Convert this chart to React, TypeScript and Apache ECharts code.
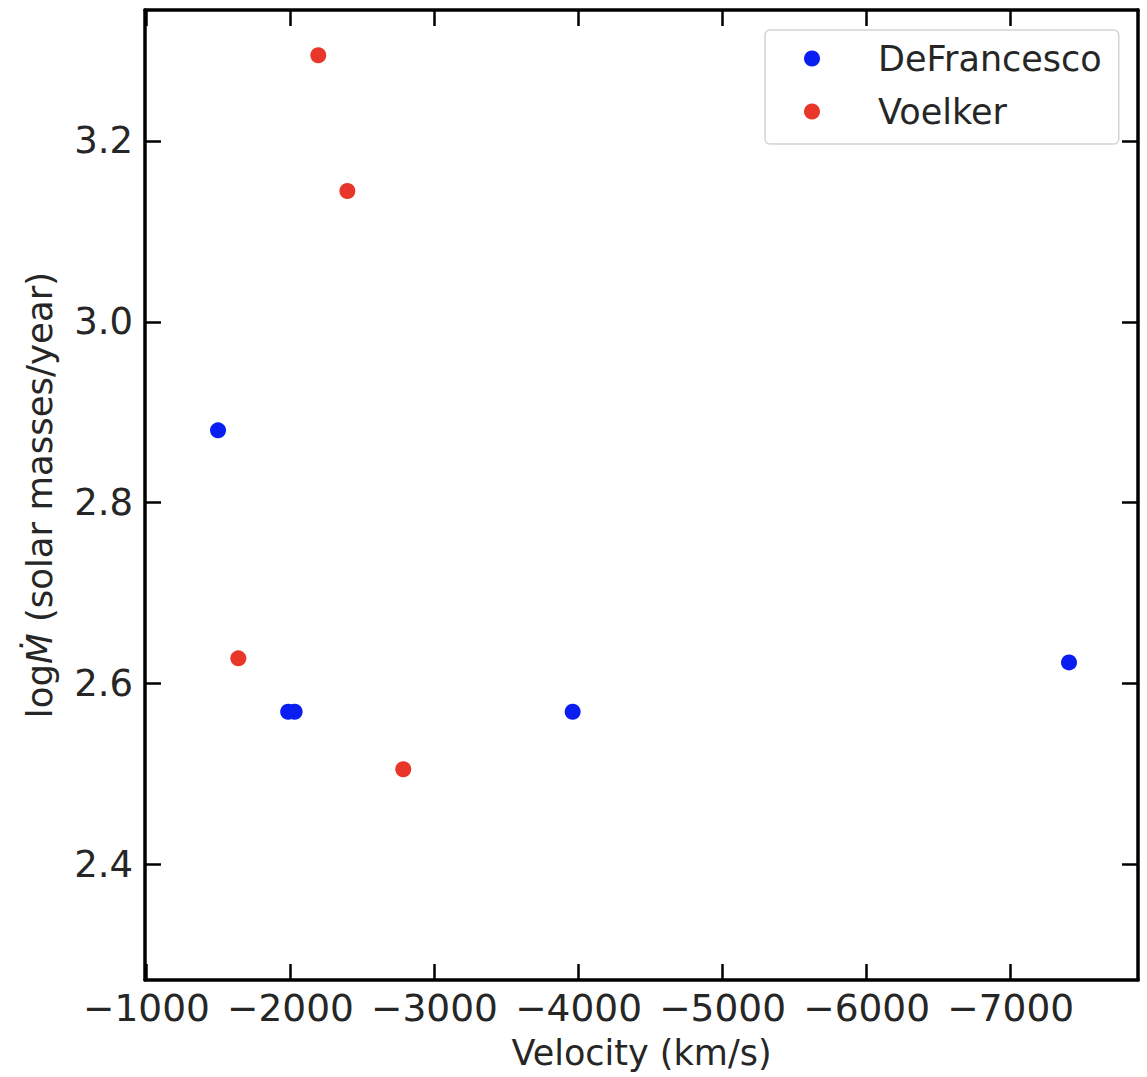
import React, { useEffect, useRef } from "react";
import * as echarts from "echarts";

const seriesNames = ["DeFrancesco", "Voelker"];
const deFrancescoVelocity = [-1497, -1984, -2029, -3959, -7405];
const deFrancescoLogMdot = [2.88, 2.569, 2.569, 2.569, 2.6235];
const voelkerVelocity = [-2193, -2395, -1638, -2783];
const voelkerLogMdot = [3.2946, 3.1445, 2.628, 2.5054];
const xTicks = [-1000, -2000, -3000, -4000, -5000, -6000, -7000];
const yTicks = [2.4, 2.6, 2.8, 3.0, 3.2];
const xRange = [-7884, -990];
const yRange = [2.2725, 3.3446];

const FONT = "DejaVu Sans";
const TXT = "#262626";

const fmtX = (v: number) => (v < 0 ? "\u2212" : "") + Math.abs(v).toString();

export default function App() {
  const ref = useRef<HTMLDivElement>(null);
  useEffect(() => {
    if (!ref.current) return;
    const chart = echarts.init(ref.current, null, { renderer: "svg" });
    const axisLine = { show: true, onZero: false, lineStyle: { color: "#000", width: 3.5 } };
    const tickX = { show: true, inside: true, length: 16, lineStyle: { color: "#000", width: 2.5 }, customValues: xTicks };
    const tickY = { show: true, inside: true, length: 16, lineStyle: { color: "#000", width: 2.5 }, customValues: yTicks };
    const pair = (xs: number[], ys: number[]) => xs.map((x, i) => [x, ys[i]]);
    chart.setOption({
      animation: false,
      backgroundColor: "#fff",
      grid: { left: 145, right: 9, top: 10, bottom: 97, containLabel: false },
      legend: {
        data: seriesNames,
        orient: "vertical",
        left: 765,
        top: 30,
        padding: [11, 17, 15, 39],
        itemGap: 18,
        itemWidth: 16,
        itemHeight: 16,
        icon: "circle",
        backgroundColor: "#fff",
        borderColor: "#d4d4d4",
        borderWidth: 1.5,
        borderRadius: 5,
        textStyle: { fontFamily: FONT, fontSize: 35, color: TXT, lineHeight: 34, padding: [0, 0, 0, 53] },
      },
      xAxis: [
        {
          type: "value",
          inverse: true,
          min: xRange[0],
          max: xRange[1],
          position: "bottom",
          name: "Velocity (km/s)",
          nameLocation: "middle",
          nameGap: 55,
          nameTextStyle: { fontFamily: FONT, fontSize: 35, color: TXT },
          axisLine,
          axisTick: tickX,
          splitLine: { show: false },
          axisLabel: {
            fontFamily: FONT,
            fontSize: 37.5,
            color: TXT,
            margin: 9,
            customValues: xTicks,
            formatter: fmtX,
          },
        },
        {
          type: "value",
          inverse: true,
          min: xRange[0],
          max: xRange[1],
          position: "top",
          axisLine,
          axisTick: tickX,
          splitLine: { show: false },
          axisLabel: { show: false },
        },
      ],
      yAxis: [
        {
          type: "value",
          min: yRange[0],
          max: yRange[1],
          position: "left",
          name: "log{it|\u1E40} (solar masses/year)",
          nameLocation: "middle",
          nameGap: 88,
          nameTextStyle: {
            fontFamily: FONT,
            fontSize: 35.5,
            color: TXT,
            rich: { it: { fontFamily: FONT, fontSize: 35.5, color: TXT, fontStyle: "italic" } },
          },
          axisLine,
          axisTick: tickY,
          splitLine: { show: false },
          axisLabel: {
            fontFamily: FONT,
            fontSize: 37,
            color: TXT,
            margin: 12,
            customValues: yTicks,
            formatter: (v: number) => v.toFixed(1),
          },
        },
        {
          type: "value",
          min: yRange[0],
          max: yRange[1],
          position: "right",
          axisLine,
          axisTick: tickY,
          splitLine: { show: false },
          axisLabel: { show: false },
        },
      ],
      series: [
        {
          name: seriesNames[0],
          type: "scatter",
          symbol: "circle",
          symbolSize: 16,
          itemStyle: { color: "#0a1ef2", opacity: 1 },
          data: pair(deFrancescoVelocity, deFrancescoLogMdot),
        },
        {
          name: seriesNames[1],
          type: "scatter",
          symbol: "circle",
          symbolSize: 16,
          itemStyle: { color: "#e8362a", opacity: 1 },
          data: pair(voelkerVelocity, voelkerLogMdot),
        },
      ],
    });
    return () => chart.dispose();
  }, []);
  return (
    <div
      ref={ref}
      style={{ position: "fixed", left: 0, top: 0, width: 1147, height: 1077, background: "#fff" }}
    />
  );
}
